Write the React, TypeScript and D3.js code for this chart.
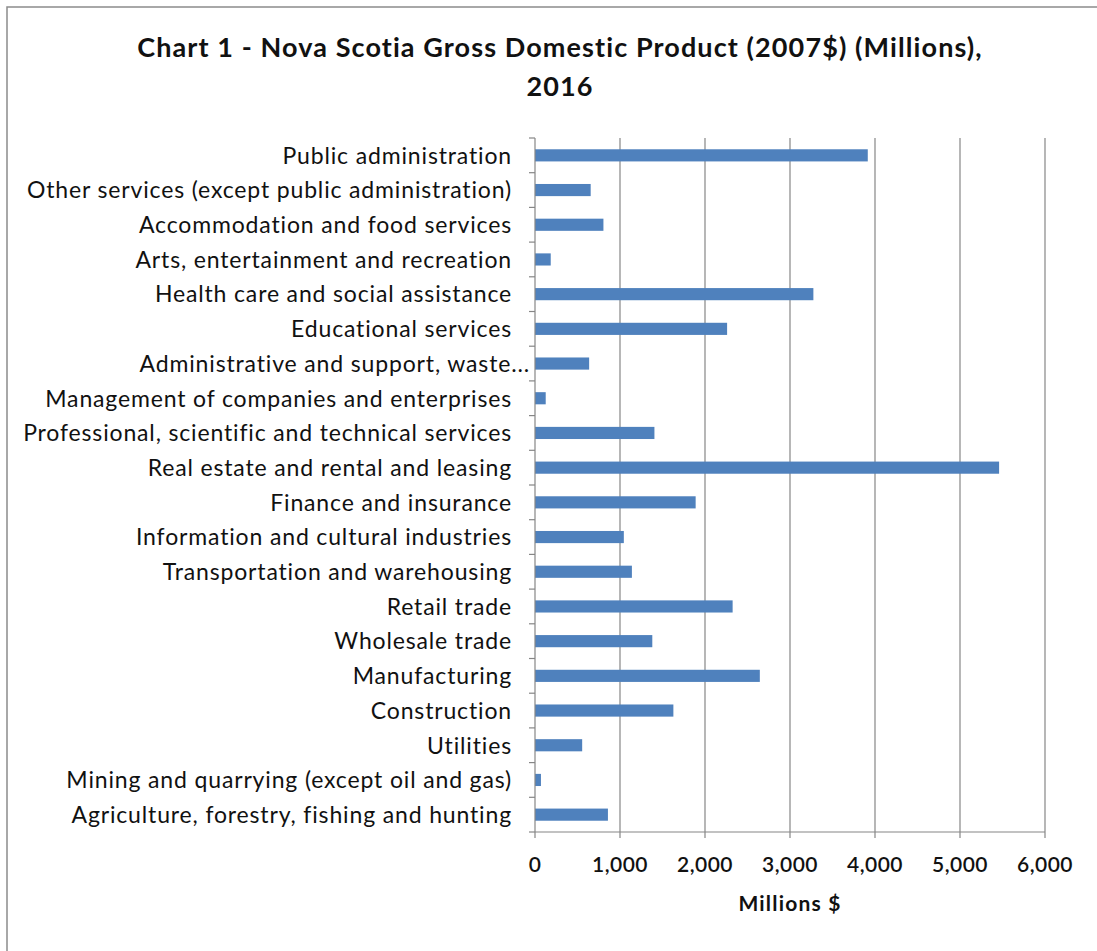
import React from "react";
import * as d3 from "d3";

const categories: string[] = [
  "Public administration",
  "Other services (except public administration)",
  "Accommodation and food services",
  "Arts, entertainment and recreation",
  "Health care and social assistance",
  "Educational services",
  "Administrative and support, waste...",
  "Management of companies and enterprises",
  "Professional, scientific and technical services",
  "Real estate and rental and leasing",
  "Finance and insurance",
  "Information and cultural industries",
  "Transportation and warehousing",
  "Retail trade",
  "Wholesale trade",
  "Manufacturing",
  "Construction",
  "Utilities",
  "Mining and quarrying (except oil and gas)",
  "Agriculture, forestry, fishing and hunting",
];

const values: number[] = [
  3915, 655, 805, 185, 3275, 2260, 637, 126, 1405, 5460,
  1890, 1045, 1140, 2325, 1380, 2645, 1628, 555, 70, 858,
];

const xTicks: number[] = [0, 1000, 2000, 3000, 4000, 5000, 6000];

const titleLines: string[] = [
  "Chart 1 - Nova Scotia Gross Domestic Product (2007$) (Millions),",
  "2016",
];
const xAxisTitle = "Millions $";

const W = 1097;
const H = 951;
const margin = { left: 535, right: 52, top: 138, bottom: 119 };
const FONT = "Lato, 'Open Sans', sans-serif";

export default function App() {
  const x = d3
    .scaleLinear()
    .domain([0, 6000])
    .range([margin.left, W - margin.right]);
  const y = d3
    .scaleBand<string>()
    .domain(categories)
    .range([margin.top, H - margin.bottom])
    .paddingInner(0.65)
    .paddingOuter(0.325);
  const bandStep = (H - margin.bottom - margin.top) / categories.length;
  const yBottom = H - margin.bottom;
  const fmt = d3.format(",");
  const gridColor = "#868686";

  return (
    <svg
      width={W}
      height={H}
      style={{ position: "absolute", left: 0, top: 0, background: "#fff" }}
    >
      <rect x={0} y={0} width={W} height={H} fill="#fff" />
      <rect
        x={7}
        y={7}
        width={W + 10}
        height={H + 10}
        fill="none"
        stroke="#8c8c8c"
        strokeWidth={1.5}
      />
      {/* title */}
      {titleLines.map((t, i) => (
        <text
          key={i}
          x={560}
          y={57 + i * 39}
          textAnchor="middle"
          fontFamily={FONT}
          fontWeight={700}
          fontSize={27}
          letterSpacing={1.1}
          fill="#111"
        >
          {t}
        </text>
      ))}
      {/* gridlines */}
      {xTicks.slice(1).map((t) => (
        <line
          key={"g" + t}
          x1={x(t)}
          x2={x(t)}
          y1={margin.top}
          y2={yBottom}
          stroke={gridColor}
          strokeWidth={1.2}
        />
      ))}
      {/* bars */}
      {categories.map((c, i) => (
        <rect
          key={c}
          x={x(0)}
          y={y(c)}
          width={x(values[i]) - x(0)}
          height={y.bandwidth()}
          fill="#4F81BD"
        />
      ))}
      {/* y axis */}
      <line
        x1={x(0)}
        x2={x(0)}
        y1={margin.top}
        y2={yBottom}
        stroke={gridColor}
        strokeWidth={1.2}
      />
      {d3.range(categories.length + 1).map((i) => (
        <line
          key={"yt" + i}
          x1={x(0) - 6}
          x2={x(0)}
          y1={margin.top + i * bandStep}
          y2={margin.top + i * bandStep}
          stroke={gridColor}
          strokeWidth={1.2}
        />
      ))}
      {/* x axis */}
      <line
        x1={x(0)}
        x2={x(6000)}
        y1={yBottom}
        y2={yBottom}
        stroke={gridColor}
        strokeWidth={1.2}
      />
      {xTicks.map((t) => (
        <g key={"xt" + t}>
          <line
            x1={x(t)}
            x2={x(t)}
            y1={yBottom}
            y2={yBottom + 6}
            stroke={gridColor}
            strokeWidth={1.2}
          />
          <text
            x={x(t)}
            y={yBottom + 40}
            textAnchor="middle"
            fontFamily={FONT}
            fontWeight={600}
            fontSize={21}
            letterSpacing={0.5}
            fill="#111"
          >
            {fmt(t)}
          </text>
        </g>
      ))}
      <text
        x={(x(0) + x(6000)) / 2}
        y={yBottom + 79}
        textAnchor="middle"
        fontFamily={FONT}
        fontWeight={700}
        fontSize={21}
        letterSpacing={1.2}
        fill="#111"
      >
        {xAxisTitle}
      </text>
      {/* category labels */}
      {categories.map((c) => (
        <text
          key={"l" + c}
          x={c.endsWith("...") ? 530 : 512}
          y={(y(c) as number) + y.bandwidth() / 2}
          dy="0.36em"
          textAnchor="end"
          fontFamily={FONT}
          fontSize={23}
          letterSpacing={0.85}
          fill="#111"
        >
          {c}
        </text>
      ))}
    </svg>
  );
}
